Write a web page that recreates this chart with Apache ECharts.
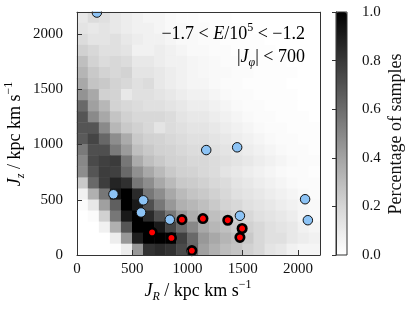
<!DOCTYPE html>
<html>
<head>
<meta charset="utf-8">
<script src="https://cdn.jsdelivr.net/npm/echarts@6/dist/echarts.min.js"></script>
<style>
html,body{margin:0;padding:0;background:#fff;}
#chart{width:409px;height:315px;}
</style>
</head>
<body>
<div id="chart"></div>
<script>
// Bin lower edges (kpc km/s), bin width 100
var jrBins = ['0','100','200','300','400','500','600','700','800','900','1000','1100','1200','1300','1400','1500','1600','1700','1800','1900','2000','2100'];
var jzBins = ['0','100','200','300','400','500','600','700','800','900','1000','1100','1200','1300','1400','1500','1600','1700','1800','1900','2000','2100'];

// Fraction of samples per cell; rows listed from top (Jz 2100-2200) to bottom (Jz 0-100)
var fractionRows = [
  [0.11,0.17,0.15,0.11,0.09,0.07,0.05,0.05,0.03,0.02,0.02,0.01,0.01,0.01,0,0,0,0,0,0,0,0],
  [0.13,0.11,0.13,0.11,0.09,0.07,0.07,0.05,0.03,0.03,0.02,0.02,0.01,0.01,0.01,0.01,0,0,0,0,0,0],
  [0.17,0.13,0.13,0.15,0.11,0.09,0.07,0.07,0.05,0.03,0.03,0.02,0.02,0.01,0.01,0.01,0.01,0,0,0,0,0],
  [0.22,0.19,0.15,0.15,0.13,0.07,0.07,0.09,0.07,0.05,0.03,0.03,0.02,0.02,0.01,0.01,0.01,0.01,0,0,0,0],
  [0.29,0.21,0.17,0.19,0.17,0.11,0.11,0.09,0.07,0.07,0.05,0.04,0.03,0.02,0.02,0.01,0.01,0.01,0.01,0,0,0],
  [0.33,0.25,0.21,0.19,0.21,0.13,0.13,0.11,0.09,0.07,0.05,0.04,0.03,0.03,0.02,0.02,0.01,0.01,0.01,0.01,0,0],
  [0.38,0.27,0.25,0.21,0.19,0.15,0.17,0.11,0.09,0.07,0.05,0.05,0.03,0.02,0.02,0.01,0.01,0.01,0.01,0,0,0],
  [0.46,0.38,0.22,0.21,0.11,0.15,0.15,0.13,0.11,0.09,0.07,0.07,0.05,0.03,0.02,0.02,0.01,0.01,0.01,0.01,0,0],
  [0.61,0.41,0.32,0.21,0.19,0.17,0.15,0.15,0.13,0.11,0.09,0.09,0.07,0.05,0.03,0.02,0.02,0.01,0.01,0.01,0,0],
  [0.69,0.49,0.38,0.27,0.22,0.19,0.19,0.19,0.17,0.13,0.11,0.11,0.09,0.07,0.05,0.03,0.02,0.02,0.01,0.01,0.01,0],
  [0.69,0.69,0.49,0.32,0.25,0.22,0.19,0.13,0.17,0.15,0.13,0.13,0.11,0.09,0.07,0.05,0.03,0.02,0.02,0.01,0.01,0.01],
  [0.67,0.75,0.62,0.48,0.37,0.25,0.22,0.21,0.19,0.17,0.15,0.15,0.13,0.11,0.09,0.07,0.05,0.03,0.02,0.02,0.01,0.01],
  [0.55,0.71,0.71,0.55,0.43,0.29,0.25,0.22,0.21,0.19,0.17,0.17,0.15,0.13,0.11,0.09,0.07,0.05,0.03,0.02,0.02,0.01],
  [0.50,0.73,0.77,0.79,0.56,0.37,0.29,0.25,0.22,0.21,0.19,0.19,0.17,0.15,0.13,0.11,0.09,0.07,0.05,0.03,0.02,0.02],
  [0.48,0.69,0.78,0.77,0.61,0.47,0.38,0.31,0.25,0.22,0.21,0.19,0.17,0.13,0.11,0.09,0.07,0.05,0.03,0.02,0.02,0.01],
  [0.25,0.61,0.78,0.87,0.83,0.56,0.48,0.38,0.31,0.25,0.24,0.22,0.19,0.17,0.13,0.11,0.09,0.07,0.05,0.03,0.02,0.02],
  [0.07,0.35,0.56,0.91,1.00,0.85,0.56,0.48,0.38,0.31,0.27,0.25,0.22,0.19,0.15,0.13,0.11,0.09,0.07,0.05,0.03,0.02],
  [0.02,0.11,0.41,0.65,1.00,0.91,0.71,0.56,0.44,0.35,0.32,0.29,0.25,0.21,0.19,0.15,0.13,0.11,0.09,0.07,0.05,0.03],
  [0,0.02,0.22,0.56,0.91,1.00,0.85,0.71,0.56,0.44,0.36,0.32,0.29,0.25,0.21,0.19,0.15,0.13,0.11,0.09,0.05,0.03],
  [0,0,0.07,0.35,0.69,1.00,1.00,0.91,0.75,0.61,0.50,0.38,0.32,0.29,0.25,0.22,0.19,0.15,0.13,0.11,0.07,0.05],
  [0,0,0,0.09,0.44,0.89,1.00,1.00,1.00,0.77,0.61,0.44,0.38,0.33,0.29,0.25,0.19,0.15,0.15,0.11,0.09,0.07],
  [0,0,0,0.01,0.09,0.44,0.82,0.85,0.82,0.73,0.62,0.41,0.35,0.30,0.27,0.22,0.19,0.13,0.11,0.07,0.05,0.05]
];

// Individual objects
var blueJr = [180, 330, 600, 580, 840, 1170, 1450, 1475, 2065, 2090];
var blueJz = [2195, 550, 495, 385, 320, 950, 975, 355, 505, 315];
var redJr = [680, 855, 950, 1040, 1140, 1365, 1495, 1475];
var redJz = [205, 155, 320, 40, 330, 315, 240, 160];

// Axis / colorbar ticks
var jTicks = [0, 500, 1000, 1500, 2000];
var cbTicks = [0.0, 0.2, 0.4, 0.6, 0.8, 1.0];

var heatData = [];
var nRows = fractionRows.length;
for (var r = 0; r < nRows; r++) {
  for (var c = 0; c < fractionRows[r].length; c++) {
    heatData.push([c, nRows - 1 - r, fractionRows[r][c]]);
  }
}
var blueData = blueJr.map(function (x, i) { return [x, blueJz[i]]; });
var redData = redJr.map(function (x, i) { return [x, redJz[i]]; });

var FONT = 'Liberation Serif';
var INK = '#111';
var AX = '#333';

var chart = echarts.init(document.getElementById('chart'), null, {renderer: 'canvas'});

function makeRich(fs) {
  return {
    n: {fontFamily: FONT, fontSize: fs, color: INK, lineHeight: fs + 6},
    i: {fontFamily: FONT, fontSize: fs, fontStyle: 'italic', color: INK, lineHeight: fs + 6},
    sup: {fontFamily: FONT, fontSize: Math.round(fs * 0.68), color: INK, lineHeight: Math.round(fs * 0.8), verticalAlign: 'top'},
    sub: {fontFamily: FONT, fontSize: Math.round(fs * 0.68), fontStyle: 'italic', color: INK, lineHeight: Math.round(fs * 0.8), verticalAlign: 'bottom'}
  };
}
var richAnn = makeRich(18);
var richLab = makeRich(18);

function tickFmt(v) { return String(v); }

var option = {
  backgroundColor: '#ffffff',
  animation: false,
  grid: [
    {left: 77, top: 12, width: 243, height: 243, show: false},
    {left: 336, top: 12, width: 11, height: 243, show: false}
  ],
  xAxis: [
    {type: 'category', gridIndex: 0, data: jrBins, show: false, boundaryGap: true},
    {type: 'value', gridIndex: 0, min: 0, max: 2200, interval: 500, position: 'bottom', z: 10,
      axisLine: {show: true, onZero: false, lineStyle: {color: AX, width: 1}},
      axisTick: {show: true, inside: true, length: 5, lineStyle: {color: AX}},
      axisLabel: {show: true, showMaxLabel: false, margin: 7, fontFamily: FONT, fontSize: 15, color: INK, formatter: tickFmt},
      splitLine: {show: false}},
    {type: 'value', gridIndex: 0, min: 0, max: 2200, position: 'top', z: 10,
      axisLine: {show: true, onZero: false, lineStyle: {color: AX, width: 1}},
      axisTick: {show: false}, axisLabel: {show: false}, splitLine: {show: false}},
    {type: 'value', gridIndex: 1, min: 0, max: 1, show: false}
  ],
  yAxis: [
    {type: 'category', gridIndex: 0, data: jzBins, show: false, boundaryGap: true},
    {type: 'value', gridIndex: 0, min: 0, max: 2200, interval: 500, position: 'left', z: 10,
      axisLine: {show: true, onZero: false, lineStyle: {color: AX, width: 1}},
      axisTick: {show: true, inside: true, length: 5, lineStyle: {color: AX}},
      axisLabel: {show: true, showMaxLabel: false, margin: 14, fontFamily: FONT, fontSize: 15, color: INK, formatter: tickFmt},
      splitLine: {show: false}},
    {type: 'value', gridIndex: 0, min: 0, max: 2200, position: 'right', z: 10,
      axisLine: {show: true, onZero: false, lineStyle: {color: AX, width: 1}},
      axisTick: {show: false}, axisLabel: {show: false}, splitLine: {show: false}},
    {type: 'value', gridIndex: 1, min: 0, max: 1, interval: 0.2, position: 'right', z: 10,
      axisLine: {show: true, lineStyle: {color: AX, width: 1}},
      axisTick: {show: true, inside: true, length: 4, lineStyle: {color: AX}},
      axisLabel: {show: true, margin: 15, fontFamily: FONT, fontSize: 15, color: INK,
        formatter: function (v) { return v.toFixed(1); }},
      splitLine: {show: false}}
  ],
  visualMap: {
    type: 'continuous',
    seriesIndex: 0,
    min: 0, max: 1,
    calculable: false,
    realtime: false,
    hoverLink: false,
    left: 336, top: 12,
    itemWidth: 11, itemHeight: 243,
    padding: 0,
    text: null,
    showLabel: false,
    inRange: {color: ['#ffffff', '#d6d6d6', '#a3a3a3', '#6c6c6c', '#383838', '#000000']}
  },
  series: [
    {type: 'heatmap', xAxisIndex: 0, yAxisIndex: 0, data: heatData,
      itemStyle: {borderWidth: 0}, emphasis: {disabled: true}, progressive: 0},
    {type: 'scatter', xAxisIndex: 1, yAxisIndex: 1, data: blueData, symbol: 'circle', symbolSize: 9.5, z: 5,
      itemStyle: {color: '#8cc3f5', borderColor: '#111', borderWidth: 1, opacity: 1}},
    {type: 'scatter', xAxisIndex: 1, yAxisIndex: 1, data: redData, symbol: 'circle', symbolSize: 8.5, z: 6,
      itemStyle: {color: '#ff0000', borderColor: '#000', borderWidth: 2.6, opacity: 1}}
  ],
  graphic: [
    // white mask above the plot frame so markers are clipped at the top spine
    {type: 'rect', z: 50, silent: true, shape: {x: 70, y: 0, width: 256, height: 11.5},
      style: {fill: '#ffffff', stroke: 'none'}},
    {type: 'rect', z: 100, silent: true, shape: {x: 336, y: 12, width: 11, height: 243},
      style: {fill: 'none', stroke: AX, lineWidth: 1}},
    {type: 'text', z: 100, x: 305, y: 34, silent: true,
      style: {text: '{n|−1.7 < }{i|E}{n|/10}{sup|5}{n| < −1.2}', rich: richAnn, align: 'right', verticalAlign: 'middle'}},
    {type: 'text', z: 100, x: 305, y: 57, silent: true,
      style: {text: '{n||}{i|J}{sub|φ}{n|| < 700}', rich: richAnn, align: 'right', verticalAlign: 'middle'}},
    {type: 'text', z: 100, x: 198, y: 291, silent: true,
      style: {text: '{i|J}{sub|R}{n| / kpc km s}{sup|−1}', rich: richLab, align: 'center', verticalAlign: 'middle'}},
    {type: 'text', z: 100, x: 15, y: 134, rotation: Math.PI / 2, silent: true,
      style: {text: '{i|J}{sub|z}{n| / kpc km s}{sup|−1}', rich: richLab, align: 'center', verticalAlign: 'middle'}},
    {type: 'text', z: 100, x: 396, y: 134, rotation: Math.PI / 2, silent: true,
      style: {text: 'Percentage of samples', fontFamily: FONT, fontSize: 18, fill: INK, align: 'center', verticalAlign: 'middle'}}
  ]
};
chart.setOption(option);
</script>
</body>
</html>
